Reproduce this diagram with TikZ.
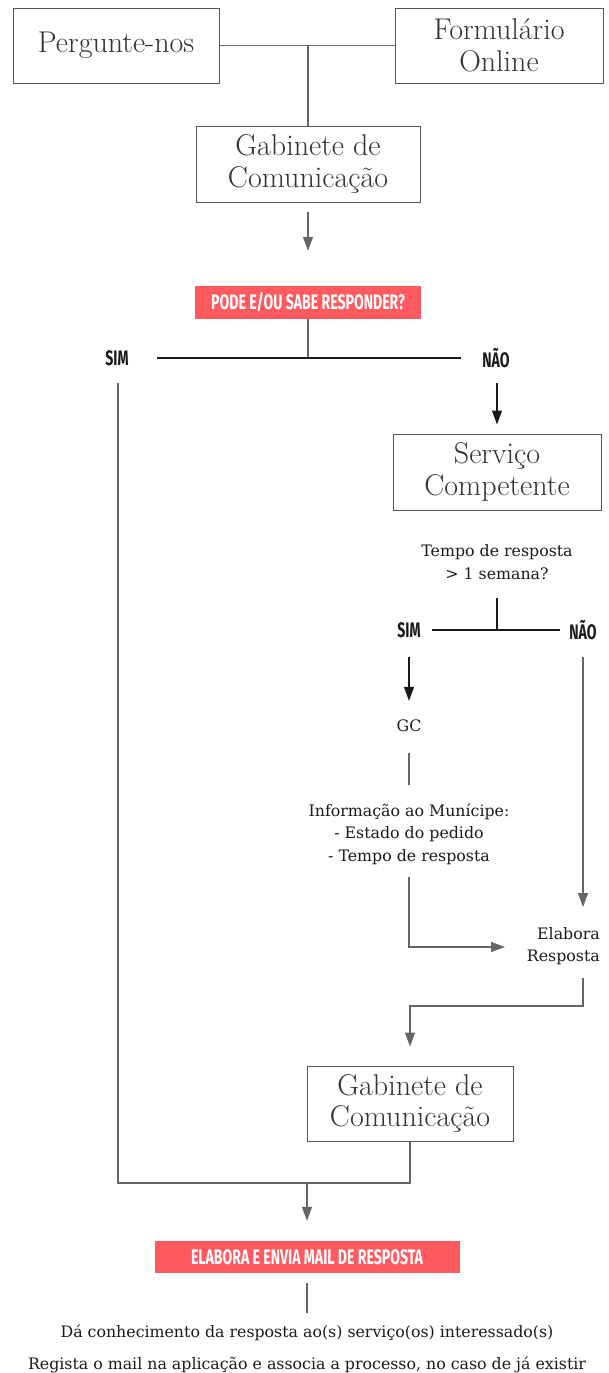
\documentclass[tikz,border=0pt]{standalone}
\usepackage{fontspec}
\usetikzlibrary{arrows.meta}
\newfontfamily\slab{DejaVu Serif}
\newfontfamily\cond{Fira Sans}[FakeStretch=0.67]
\definecolor{redc}{HTML}{FF5A5F}
\definecolor{boxgray}{HTML}{555555}
\definecolor{linegray}{HTML}{666666}
\definecolor{txt}{HTML}{333333}
\definecolor{dark}{HTML}{1A1A1A}
\tikzset{
  boxnode/.style={draw=boxgray, line width=1pt, fill=white, text=txt, align=center, inner sep=0pt,
    font=\fontsize{30}{32}\selectfont},
  redbox/.style={fill=redc, text=white, inner sep=0pt, font=\cond\bfseries\fontsize{21}{21}\selectfont},
  lbl/.style={text=dark, inner sep=0pt, font=\cond\bfseries\fontsize{21}{21}\selectfont},
  smalltxt/.style={text=dark, inner sep=0pt, align=center, font=\slab\fontsize{15.8}{22.5}\selectfont},
  conn/.style={draw=linegray, line width=1.2pt},
  darkconn/.style={draw=dark, line width=1.2pt},
  arr/.style={conn, -{Triangle[width=10pt,length=14pt]}},
}
\begin{document}
\begin{tikzpicture}[x=1pt,y=-1pt]
\useasboundingbox (0,0) rectangle (608,1373);
% boxes
\node[boxnode, minimum width=206pt, minimum height=75pt] (perg) at (116,45.5) {Pergunte-nos};
\node[boxnode, minimum width=208pt, minimum height=75pt] (form) at (499,45.5) {Formulário\\Online};
\node[boxnode, minimum width=224pt, minimum height=76pt] (gab1) at (308,164) {Gabinete de\\Comunicação};
\node[redbox, minimum width=226pt, minimum height=33pt] (red1) at (308,302.5) {PODE E/OU SABE RESPONDER?};
\node[lbl] (sim1) at (117,358) {SIM};
\node[lbl] (nao1) at (496,358) {NÃO};
\node[boxnode, minimum width=208pt, minimum height=76pt] (serv) at (497,472) {Serviço\\Competente};
\node[smalltxt] (tempo) at (497,562) {Tempo de resposta\\> 1 semana?};
\node[lbl] (sim2) at (409,630) {SIM};
\node[lbl] (nao2) at (583,630) {NÃO};
\node[smalltxt] (gc) at (409,726) {GC};
\node[smalltxt] (info) at (409,834) {Informação ao Munícipe:\\- Estado do pedido\\- Tempo de resposta};
\node[smalltxt, anchor=east, align=right] (elab) at (600,946) {Elabora\\Resposta};
\node[boxnode, minimum width=206pt, minimum height=75pt] (gab2) at (410,1103.5) {Gabinete de\\Comunicação};
\node[redbox, minimum width=305pt, minimum height=32pt] (red2) at (307,1257) {ELABORA E ENVIA MAIL DE RESPOSTA};
\node[smalltxt] (fin1) at (307,1333) {Dá conhecimento da resposta ao(s) serviço(os) interessado(s)};
\node[smalltxt] (fin2) at (307,1365) {Regista o mail na aplicação e associa a processo, no caso de já existir};
% coordinates
\coordinate (j1) at (308,45.5);
\coordinate (a1) at (308,212);
\coordinate (j2) at (308,358);
\coordinate (h1l) at (157,358);
\coordinate (h1r) at (461,358);
\coordinate (s1) at (118,383);
\coordinate (c1) at (118,1183);
\coordinate (c2) at (307,1183);
\coordinate (n1) at (497,383);
\coordinate (t1) at (497,598);
\coordinate (j3) at (497,630);
\coordinate (h2l) at (432,630);
\coordinate (h2r) at (560,630);
\coordinate (s2) at (409,657);
\coordinate (g1) at (409,753);
\coordinate (g2) at (409,785);
\coordinate (i1) at (409,877);
\coordinate (i2) at (409,947);
\coordinate (i3) at (505,947);
\coordinate (n2) at (583,657);
\coordinate (n2e) at (583,907);
\coordinate (e1) at (583,978);
\coordinate (e2) at (583,1006);
\coordinate (e3) at (410,1006);
\coordinate (b1) at (307,1283);
\coordinate (b2) at (307,1313);
% connectors
\draw[conn] (perg.east) -- (form.west);
\draw[conn] (j1) -- (gab1.north);
\draw[arr, shorten >=35pt] (a1) -- (red1.north);
\draw[conn] (red1.south) -- (j2);
\draw[darkconn] (h1l) -- (h1r);
\draw[conn] (s1) -- (c1) -| (gab2.south);
\draw[arr, shorten >=20pt] (c2) -- (red2.north);
\draw[arr, darkconn, shorten >=9pt] (n1) -- (serv.north);
\draw[darkconn] (t1) -- (j3);
\draw[darkconn] (h2l) -- (h2r);
\draw[arr, darkconn, shorten >=19pt] (s2) -- (gc.north);
\draw[conn] (g1) -- (g2);
\draw[arr] (i1) -- (i2) -- (i3);
\draw[arr] (n2) -- (n2e);
\draw[arr, shorten >=19pt] (e1) -- (e2) -- (e3) -- (gab2.north);
\draw[conn] (b1) -- (b2);
\end{tikzpicture}
\end{document}
